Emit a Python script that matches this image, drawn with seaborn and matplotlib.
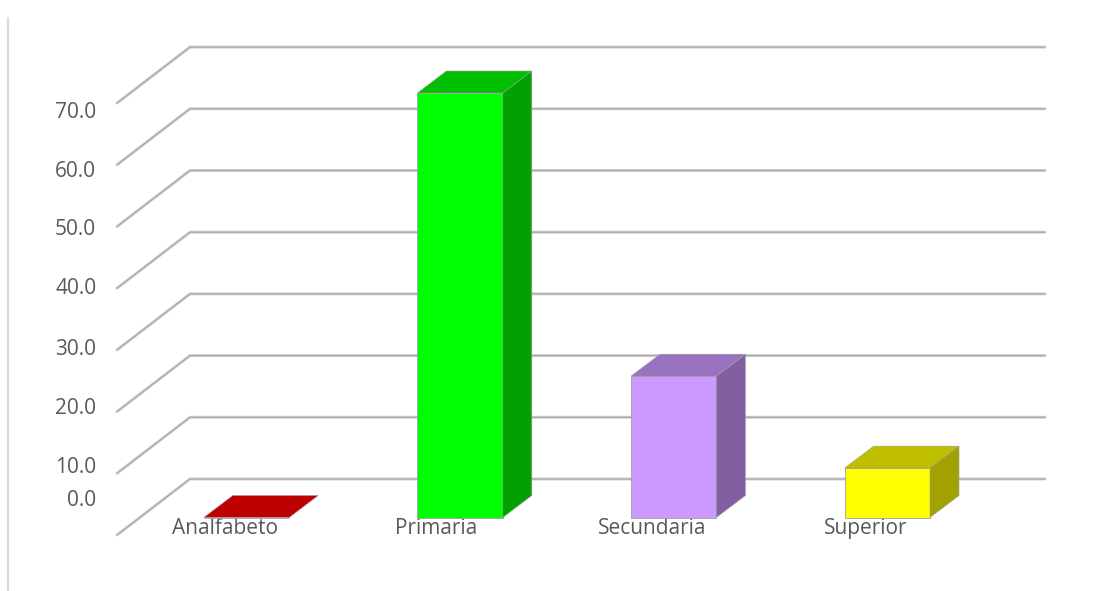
import matplotlib
matplotlib.use('Agg')
import matplotlib.pyplot as plt
import seaborn as sns
import pandas as pd
from matplotlib.colors import to_rgb
from matplotlib.lines import Line2D
from matplotlib.patches import Polygon

# values
categories = ['Analfabeto', 'Primaria', 'Secundaria', 'Superior']
values = [0.0, 68.8, 22.9, 8.0]
bar_colors = ['#FF0000', '#00FF00', '#CC99FF', '#FFFF00']
grid_values = [0, 10, 20, 30, 40, 50, 60, 70]
tick_labels = ['0.0', '10.0', '20.0', '30.0', '40.0', '50.0', '60.0', '70.0']
# the labels in the picture do not sit on the grid, so they have their own spots
tick_spots = [3.1, 8.5, 18.1, 27.7, 37.5, 47.1, 56.5, 66.1]
label_shift = [-22, -24, -22, -22]

W, H = 1093, 591
PX_X = 213.6   # pixels per category
PX_Y = 6.17    # pixels per unit
X0 = 246.5     # pixel of the first category
Y0 = 517.5     # pixel of value 0 on the bar fronts
LEFT, RIGHT, TOP = 117, 1045, 47

sns.set_theme(style='white')
plt.rcParams['font.family'] = ['Open Sans', 'DejaVu Sans']

df = pd.DataFrame({'nivel': categories, 'valor': values})

fig = plt.figure(figsize=(W / 100, H / 100), dpi=100)
ax = fig.add_axes([LEFT / W, 1 - Y0 / H, (RIGHT - LEFT) / W, (Y0 - TOP) / H])
sns.barplot(data=df, x='nivel', y='valor', hue='nivel', order=categories,
            palette=bar_colors, saturation=1, width=0.4, legend=False, ax=ax,
            edgecolor='#a0a0a0', linewidth=0.6, zorder=3)
ax.set_xlim((LEFT - X0) / PX_X, (RIGHT - X0) / PX_X)
ax.set_ylim(0, (Y0 - TOP) / PX_Y)
sns.despine(ax=ax, left=True, bottom=True)
ax.set_xlabel('')
ax.set_ylabel('')


def darker(color, k):
    return tuple(c * k for c in to_rgb(color))


# depth of the bars, and of the floor and back wall
dx, dy = 29 / PX_X, 22 / PX_Y
wall_dx, wall_dy = 73 / PX_X, 56 / PX_Y
floor = -17.5 / PX_Y
x_front = (LEFT - X0) / PX_X
x_back = x_front + wall_dx
x_end = (RIGHT - X0) / PX_X

for v in grid_values:
    y_front = floor + v
    y_back = y_front + wall_dy
    for color, lw in [('#d4d4d4', 2.2), ('#a8a8a8', 0.9)]:
        ax.plot([x_front, x_back, x_end], [y_front, y_back, y_back], color=color,
                lw=lw, clip_on=False, zorder=1, solid_joinstyle='miter')

# top and side faces come from each seaborn bar
for bar, color in zip(ax.patches, bar_colors):
    x = bar.get_x()
    w = bar.get_width()
    h = bar.get_height()
    top = [(x, h), (x + dx, h + dy), (x + w + dx, h + dy), (x + w, h)]
    side = [(x + w, 0), (x + w + dx, dy), (x + w + dx, h + dy), (x + w, h)]
    ax.add_patch(Polygon(top, closed=True, facecolor=darker(color, 0.75),
                         edgecolor='#a0a0a0', lw=0.4, clip_on=False, zorder=3))
    if h > 0:
        ax.add_patch(Polygon(side, closed=True, facecolor=darker(color, 0.63),
                             edgecolor='#a0a0a0', lw=0.4, clip_on=False, zorder=3))
    bar.set_clip_on(False)

ax.set_yticks(tick_spots, labels=tick_labels)
ax.set_xticks([i + s / PX_X for i, s in enumerate(label_shift)], labels=categories)
ax.tick_params(axis='y', length=0, pad=15, labelsize=15, labelcolor='#595959')
ax.tick_params(axis='x', length=0, pad=0.5, labelsize=15, labelcolor='#595959')
for t in ax.get_xticklabels():
    t.set_zorder(5)

# thin frame line on the left of the picture
fig.add_artist(Line2D([8 / W, 8 / W], [0, 1 - 18 / H], color='#d9d9d9', lw=1.6))

plt.savefig('out.png', dpi=100)
plt.close()
